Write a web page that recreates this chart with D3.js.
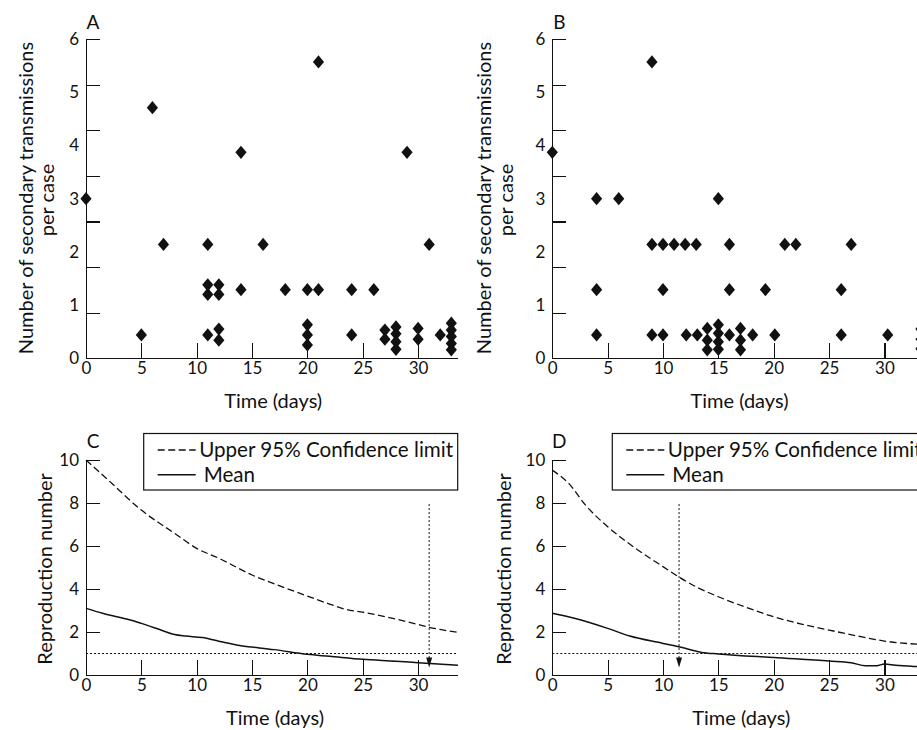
<!DOCTYPE html>
<html><head><meta charset="utf-8">
<script src="https://cdn.jsdelivr.net/npm/d3@7"></script>
<style>
body{margin:0;background:#fff;}
svg{display:block;font-family:Lato, "Open Sans", sans-serif;}
.axis path,.axis line{stroke:#111;stroke-width:1.2;shape-rendering:crispEdges;}
.axis text{font-size:17px;fill:#111;font-family:Lato, "Open Sans", sans-serif;}
</style></head><body>
<svg id="c" width="917" height="730"></svg>
<script>
// ---------- data ----------
const xTickValues = [0, 5, 10, 15, 20, 25, 30];
const scatterYLabels = [0, 1, 2, 3, 4, 5, 6];
const reproYTicks = [0, 2, 4, 6, 8, 10];

// Panel A: secondary transmissions per case
const aDays   = [0, 5, 6, 7, 11, 11, 11, 11, 12, 12, 12, 12, 14, 14, 16, 18, 20, 20, 20, 20, 21, 21, 24, 24, 26, 27, 27, 28, 28, 28, 28, 29, 30, 30, 31, 32, 33, 33, 33, 33, 33];
const aValues = [3.0, 0.44, 4.71, 2.14, 2.14, 1.38, 1.20, 0.44, 1.38, 1.20, 0.55, 0.34, 3.87, 1.29, 2.14, 1.29, 1.29, 0.63, 0.44, 0.25, 5.57, 1.29, 1.29, 0.44, 1.29, 0.53, 0.36, 0.59, 0.46, 0.31, 0.17, 3.87, 0.56, 0.36, 2.14, 0.44, 0.66, 0.53, 0.41, 0.28, 0.16];

// Panel B
const bDays   = [0, 4, 6, 9, 15, 9, 10, 11, 12, 13, 16, 21, 22, 27, 4, 10, 16, 19.25, 26.1, 4, 9, 10, 12.1, 13.1, 16, 18.1, 20.1, 26.1, 30.3, 14, 14, 14, 15, 15, 15, 15, 17, 17, 17, 33.3, 33.3, 33.3];
const bValues = [3.87, 3.0, 3.0, 5.57, 3.0, 2.14, 2.14, 2.14, 2.14, 2.14, 2.14, 2.14, 2.14, 2.14, 1.29, 1.29, 1.29, 1.29, 1.29, 0.44, 0.44, 0.44, 0.44, 0.44, 0.44, 0.44, 0.44, 0.44, 0.44, 0.56, 0.34, 0.16, 0.63, 0.47, 0.31, 0.17, 0.56, 0.34, 0.16, 0.55, 0.36, 0.18];

// Panel C: reproduction number
const cUpperDays = [0, 2, 5, 8, 10, 12, 15, 18, 20, 22, 23.5, 25, 28, 30, 31, 33.6];
const cUpper     = [10, 9.07, 7.67, 6.59, 5.89, 5.43, 4.65, 4.05, 3.67, 3.3, 3.05, 2.92, 2.6, 2.35, 2.22, 1.98];
const cMeanDays  = [0, 1.5, 4, 5, 7, 8, 9, 10.5, 12, 14, 15, 17, 20, 22, 25, 28, 30, 33.6];
const cMean      = [3.1, 2.87, 2.56, 2.4, 2.05, 1.88, 1.81, 1.74, 1.57, 1.36, 1.3, 1.18, 0.96, 0.87, 0.73, 0.64, 0.57, 0.45];
const cArrowDay = 31;

// Panel D
const dUpperDays = [0, 1.5, 3, 5, 7.5, 10, 11.4, 13, 15, 17.5, 20, 22.5, 25, 27.5, 30, 33, 34];
const dUpper     = [9.53, 8.9, 7.9, 6.9, 5.9, 5.04, 4.57, 4.1, 3.64, 3.15, 2.71, 2.37, 2.09, 1.82, 1.58, 1.43, 1.40];
const dMeanDays  = [0, 2, 5, 7, 10, 12, 13.5, 15, 20, 25, 27, 28.3, 29.3, 30, 31, 33, 34];
const dMean      = [2.87, 2.64, 2.17, 1.81, 1.47, 1.24, 1.05, 0.98, 0.81, 0.65, 0.57, 0.43, 0.43, 0.51, 0.45, 0.39, 0.37];
const dArrowDay = 11.45;

const thresholdValue = 1;
const arrowTopValue = 7.95;
const arrowTipValue = 0.35;
const legendLabels = ["Upper 95% Confidence limit", "Mean"];
const xLabel = "Time (days)";
const scatterYLabel = ["Number of secondary transmissions", "per case"];
const reproYLabel = "Reproduction number";

// ---------- drawing ----------
const svg = d3.select("#c");
const ink = "#111";
const titleSize = 20;
const legendSize = 20.6;

const diamond = {
  draw(ctx, size) {
    const s = Math.sqrt(size);
    const w = 0.65 * s, h = 0.77 * s;
    ctx.moveTo(0, -h); ctx.lineTo(w, 0); ctx.lineTo(0, h); ctx.lineTo(-w, 0); ctx.closePath();
  }
};

function xAxis(g, x, y0) {
  g.attr("class", "axis").attr("transform", `translate(0,${y0})`)
    .call(d3.axisBottom(x).tickValues(xTickValues).tickSizeInner(-15).tickSizeOuter(0).tickPadding(4));
}

function scatterPanel(opt) {
  const x = d3.scaleLinear().domain([0, 33.55]).range([opt.x0, opt.x0 + 33.55 * 11.07]);
  const y = d3.scaleLinear().domain([0, 6]).range([358.3, 39]);
  const g = svg.append("g");
  // tick marks (7 intervals) with the axis line
  const markVals = d3.range(8).map(i => i * 6 / 7);
  g.append("g").attr("class", "axis").attr("transform", `translate(${opt.x0},0)`)
    .call(d3.axisLeft(y).tickValues(markVals).tickSizeInner(-14).tickSizeOuter(0).tickFormat(""));
  g.append("g").attr("class", "axis").attr("transform", `translate(${opt.x0},0)`)
    .call(d3.axisLeft(y).tickValues(scatterYLabels).tickSize(0).tickPadding(7).tickFormat(d3.format("d")))
    .call(a => a.select(".domain").remove());
  g.append("g").call(a => xAxis(a, x, 358.3));
  g.append("g").selectAll("path").data(opt.days.map((d, i) => [d, opt.vals[i]])).join("path")
    .attr("d", d3.symbol().type(diamond).size(74))
    .attr("transform", d => `translate(${x(d[0])},${y(d[1])})`)
    .attr("fill", ink);
  svg.append("text").attr("x", opt.x0 + 7).attr("y", 29).attr("text-anchor", "middle")
    .attr("font-size", 19).attr("fill", ink).text(opt.letter);
  svg.append("text").attr("x", (x(0) + x(33.55)) / 2 + 1.5).attr("y", 408)
    .attr("text-anchor", "middle").attr("font-size", titleSize).attr("fill", ink).text(xLabel);
  svg.append("text").attr("text-anchor", "middle").attr("font-size", titleSize).attr("fill", ink)
    .attr("transform", `translate(${opt.yl1},198) rotate(-90)`).text(scatterYLabel[0]);
  svg.append("text").attr("text-anchor", "middle").attr("font-size", titleSize).attr("fill", ink)
    .attr("transform", `translate(${opt.yl2},200) rotate(-90)`).text(scatterYLabel[1]);
}

function reproPanel(opt) {
  const x = d3.scaleLinear().domain([0, 33.55]).range([opt.x0, opt.x0 + 33.55 * 11.07]);
  const y = d3.scaleLinear().domain([0, 10]).range([675, 460]);
  const g = svg.append("g");
  g.append("g").attr("class", "axis").attr("transform", `translate(${opt.x0},0)`)
    .call(d3.axisLeft(y).tickValues(reproYTicks).tickSizeInner(-14).tickSizeOuter(0).tickPadding(7));
  g.append("g").call(a => xAxis(a, x, 675));

  // threshold line
  g.append("line").attr("x1", x(0)).attr("x2", x(33.55)).attr("y1", y(thresholdValue)).attr("y2", y(thresholdValue))
    .attr("stroke", ink).attr("stroke-width", 1).attr("stroke-dasharray", "2,2");
  // arrow
  g.append("line").attr("x1", x(opt.arrowDay)).attr("x2", x(opt.arrowDay))
    .attr("y1", y(arrowTopValue)).attr("y2", y(arrowTipValue) - 8)
    .attr("stroke", ink).attr("stroke-width", 1).attr("stroke-dasharray", "2,2");
  const ax = x(opt.arrowDay), ay = y(arrowTipValue);
  g.append("path").attr("d", `M${ax - 3},${ay - 10}L${ax + 3},${ay - 10}L${ax},${ay}Z`).attr("fill", ink);

  const line = d3.line().x(d => x(d[0])).y(d => y(d[1])).curve(d3.curveMonotoneX);
  g.append("path").attr("d", line(opt.upDays.map((d, i) => [d, opt.up[i]])))
    .attr("fill", "none").attr("stroke", ink).attr("stroke-width", 1.3).attr("stroke-dasharray", "7,3.5");
  g.append("path").attr("d", line(opt.meanDays.map((d, i) => [d, opt.mean[i]])))
    .attr("fill", "none").attr("stroke", ink).attr("stroke-width", 1.5);

  // legend
  const lg = svg.append("g");
  lg.append("rect").attr("x", opt.lx).attr("y", 433.5).attr("width", opt.lw).attr("height", 56.5)
    .attr("fill", "#fff").attr("stroke", ink).attr("stroke-width", 1.2);
  lg.append("line").attr("x1", opt.lx + 14).attr("x2", opt.lx + 52).attr("y1", 450).attr("y2", 450)
    .attr("stroke", ink).attr("stroke-width", 1.3).attr("stroke-dasharray", "7,3.5");
  lg.append("line").attr("x1", opt.lx + 14).attr("x2", opt.lx + 52).attr("y1", 474.7).attr("y2", 474.7)
    .attr("stroke", ink).attr("stroke-width", 1.5);
  lg.append("text").attr("x", opt.lx + 55.5).attr("y", 456.5).attr("font-size", legendSize).attr("fill", ink).text(legendLabels[0]);
  lg.append("text").attr("x", opt.lx + 60).attr("y", 482).attr("font-size", legendSize).attr("fill", ink).text(legendLabels[1]);

  svg.append("text").attr("x", opt.x0 + 7).attr("y", 447.5).attr("text-anchor", "middle")
    .attr("font-size", 19).attr("fill", ink).text(opt.letter);
  svg.append("text").attr("x", opt.x0 + 189).attr("y", 725)
    .attr("text-anchor", "middle").attr("font-size", titleSize).attr("fill", ink).text(xLabel);
  svg.append("text").attr("text-anchor", "middle").attr("font-size", titleSize).attr("fill", ink)
    .attr("transform", `translate(${opt.yl},569) rotate(-90)`).text(reproYLabel);
}

scatterPanel({x0: 86, days: aDays, vals: aValues, letter: "A", yl1: 33, yl2: 53.5});
scatterPanel({x0: 552.3, days: bDays, vals: bValues, letter: "B", yl1: 491, yl2: 513});
reproPanel({x0: 86, upDays: cUpperDays, up: cUpper, meanDays: cMeanDays, mean: cMean, arrowDay: cArrowDay,
  letter: "C", lx: 143.7, lw: 314, yl: 52});
reproPanel({x0: 552.3, upDays: dUpperDays, up: dUpper, meanDays: dMeanDays, mean: dMean, arrowDay: dArrowDay,
  letter: "D", lx: 612.3, lw: 340, yl: 511});
</script>
</body></html>
